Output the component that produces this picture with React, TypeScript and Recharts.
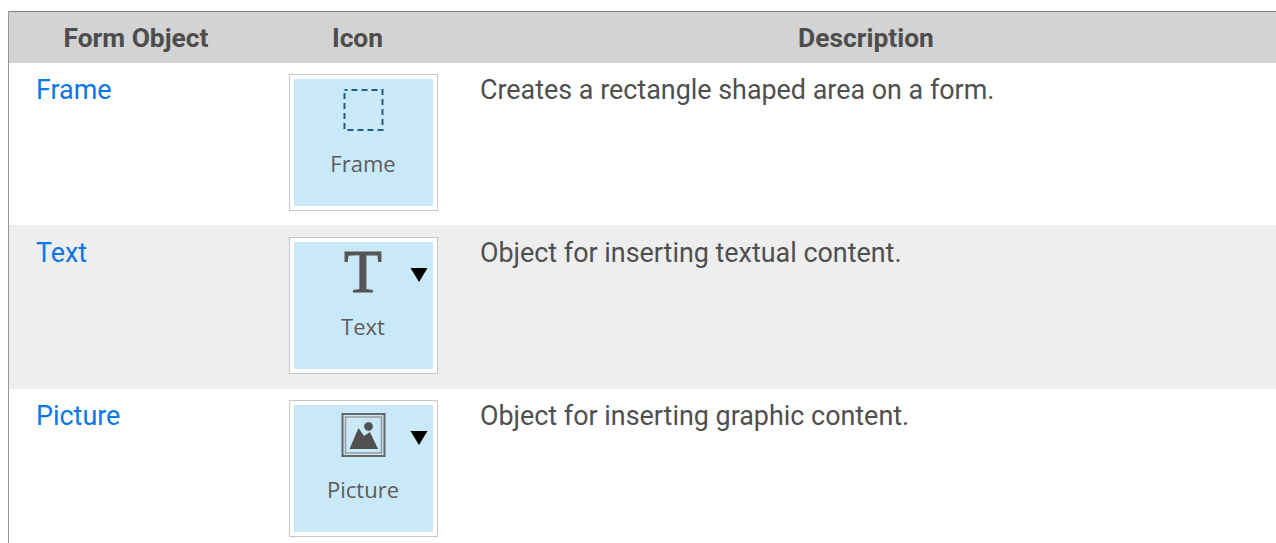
import { BarChart, Bar, XAxis, YAxis } from 'recharts';

const columnLabels = ['Form Object', 'Icon', 'Description'];
const formObjects = ['Frame', 'Text', 'Picture'];
const descriptions = [
  'Creates a rectangle shaped area on a form.',
  'Object for inserting textual content.',
  'Object for inserting graphic content.',
];
const rowNames = ['header', 'frame', 'text', 'picture'];
const rowHeights = [51, 162, 164, 154];

const chartData = [
  {
    name: 'table',
    header: rowHeights[0],
    frame: rowHeights[1],
    text: rowHeights[2],
    picture: rowHeights[3],
  },
];

const rowFills = ['#d3d3d3', '#ffffff', '#eeeeee', '#ffffff'];
const rowBoxOffsets = [11, 12, 11];
const columnCenters = [136, 357.5, 866];
const font = 'Roboto, sans-serif';
const iconFont = '"Open Sans", sans-serif';

const Triangle = ({ top }: { top: number }) => (
  <path d={`M410.5 ${top}h17l-8.5 14z`} fill="#000000" />
);

const FrameIcon = ({ top }: { top: number }) => (
  <rect
    x={344.5}
    y={top + 16}
    width={38}
    height={40}
    fill="none"
    stroke="#225c8e"
    strokeWidth={2}
    strokeDasharray="6 4"
    strokeDashoffset={3}
  />
);

const TextIcon = ({ top }: { top: number }) => (
  <>
    <text x={363} y={top + 55} textAnchor="middle" fontFamily="Liberation Serif" fontSize={62} fill="#555555" stroke="#555555" strokeWidth={1.2}>
      T
    </text>
    <Triangle top={top + 31} />
  </>
);

const PictureIcon = ({ top }: { top: number }) => (
  <>
    <rect x={342.5} y={top + 14} width={42} height={42} fill="none" stroke="#666666" strokeWidth={2} />
    <rect x={345.5} y={top + 17} width={36} height={36} fill="none" stroke="#9a9a9a" strokeWidth={1.5} />
    <path d={`M349.5 ${top + 49}L358.5 ${top + 28}L364 ${top + 36}L370 ${top + 32}L378 ${top + 49}z`} fill="#505050" />
    <circle cx={368.5} cy={top + 26.5} r={4.8} fill="#505050" stroke="#c9e9f8" strokeWidth={1} />
    <Triangle top={top + 31} />
  </>
);

const rowIcons = [FrameIcon, TextIcon, PictureIcon];

const TableRow = (props: any) => {
  const { y, width, height, index } = props;
  const fill = rowFills[index];
  // the left rule covers the first half pixel of the band
  const left = 9;

  if (index === 0) {
    return (
      <g>
        <rect x={left} y={y} width={width} height={height} fill={fill} />
        {columnLabels.map((label, i) => (
          <text key={label} x={columnCenters[i]} y={y + 35} textAnchor="middle" fontFamily={font} fontWeight={700} fontSize={26.4} fill="#4d4d4d">
            {label}
          </text>
        ))}
      </g>
    );
  }

  const cell = index - 1;
  const boxTop = y + rowBoxOffsets[cell];
  const Icon = rowIcons[cell];

  return (
    <g>
      <rect x={left} y={y} width={width} height={height} fill={fill} />
      <text x={36} y={boxTop + 24.5} fontFamily={font} fontSize={26.9} fill="#0b76e6">
        {formObjects[cell]}
      </text>
      <rect x={289.5} y={boxTop + 0.5} width={148} height={136} fill="#ffffff" stroke="#c6c6c6" />
      <rect x={294} y={boxTop + 5} width={139} height={127} fill="#c9e9f8" />
      <Icon top={boxTop} />
      <text x={363} y={boxTop + 98} textAnchor="middle" fontFamily={iconFont} fontSize={22} fill="#5c5c5c">
        {formObjects[cell]}
      </text>
      <text x={480} y={boxTop + 24.5} fontFamily={font} fontSize={26.9} fill="#4f4f4f">
        {descriptions[cell]}
      </text>
    </g>
  );
};

// rows are stacked from the bottom up, so the last row goes in first
const stackOrder = rowNames.map((name, index) => ({ name, index })).reverse();

const App = () => {
  return (
    <div style={{ position: 'absolute', left: 0, top: 0, width: 1276, height: 543, overflow: 'hidden', background: '#ffffff' }}>
      <BarChart
        width={1276}
        height={543}
        data={chartData}
        barCategoryGap={0}
        margin={{ top: 10.5, right: 0, bottom: 0, left: 7.5 }}
      >
        <XAxis dataKey="name" orientation="top" height={1} tick={false} tickLine={false} axisLine={{ stroke: '#808080' }} />
        <YAxis type="number" width={1} domain={[0, 531.5]} tick={false} tickLine={false} axisLine={{ stroke: '#969696' }} />
        {stackOrder.map(({ name, index }) => (
          <Bar
            key={name}
            dataKey={name}
            stackId="rows"
            isAnimationActive={false}
            shape={(props: any) => <TableRow {...props} index={index} />}
          />
        ))}
      </BarChart>
    </div>
  );
};

export default App;
